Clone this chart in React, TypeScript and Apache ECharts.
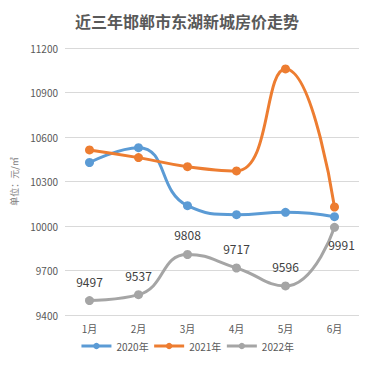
import React, { useEffect, useRef } from "react";
import * as echarts from "echarts";

const months = ["1月", "2月", "3月", "4月", "5月", "6月"];
const s2020 = [10428, 10528, 10137, 10076, 10092, 10063];
const s2021 = [10513, 10461, 10400, 10371, 11059, 10128];
const s2022 = [9497, 9537, 9808, 9717, 9596, 9991];
const seriesNames = ["2020年", "2021年", "2022年"];
const colors = ["#5B9BD5", "#ED7D31", "#A5A5A5"];

export default function App() {
  const ref = useRef<HTMLDivElement>(null);
  useEffect(() => {
    document.body.style.margin = "0";
    const chart = echarts.init(ref.current!, null, { renderer: "svg" });
    const font = "'Microsoft YaHei', 'Noto Sans CJK SC', sans-serif";
    const mk = (name: string, data: number[], color: string, label: boolean) => ({
      name,
      type: "line",
      data: label
        ? data.map((v, i) =>
            i === data.length - 1
              ? { value: v, label: { position: "bottom", offset: [7, -2] } }
              : v
          )
        : data,
      smooth: 0.5,
      symbol: "circle",
      symbolSize: 9,
      lineStyle: { width: 3, color },
      itemStyle: { color },
      label: label
        ? { show: true, position: "top", distance: 9, fontSize: 12, color: "#404040", fontFamily: font }
        : { show: false },
    });
    chart.setOption({
      animation: false,
      backgroundColor: "#fff",
      color: colors,
      textStyle: { fontFamily: font },
      title: {
        text: "近三年邯郸市东湖新城房价走势",
        left: "center",
        top: 8,
        textStyle: { fontSize: 16, fontWeight: "bold", color: "#595959", fontFamily: font },
      },
      legend: {
        bottom: 12,
        left: "center",
        itemWidth: 30,
        itemHeight: 8,
        itemGap: 4,
        data: seriesNames,
        lineStyle: { width: 3 },
        textStyle: { fontSize: 10, color: "#595959", fontFamily: font },
      },
      grid: { left: 65, right: 15, top: 48, bottom: 53 },
      xAxis: {
        type: "category",
        data: months,
        boundaryGap: true,
        axisLine: { show: false },
        axisTick: { show: false },
        axisLabel: { fontSize: 10, color: "#595959", margin: 8 },
      },
      yAxis: {
        type: "value",
        min: 9400,
        max: 11200,
        interval: 300,
        name: "单位：元/㎡",
        nameLocation: "middle",
        nameRotate: 90,
        nameGap: 46,
        nameTextStyle: { fontSize: 9, color: "#7f7f7f" },
        axisLabel: { fontSize: 10, color: "#595959", margin: 7, formatter: (v: number) => String(v) },
        splitLine: { lineStyle: { color: "#d9d9d9", width: 1 } },
        axisLine: { show: false },
        axisTick: { show: false },
      },
      series: [
        mk(seriesNames[0], s2020, colors[0], false),
        mk(seriesNames[1], s2021, colors[1], false),
        mk(seriesNames[2], s2022, colors[2], true),
      ],
    });
    return () => chart.dispose();
  }, []);
  return <div ref={ref} style={{ position: "absolute", left: 0, top: 0, width: 374, height: 368 }} />;
}
